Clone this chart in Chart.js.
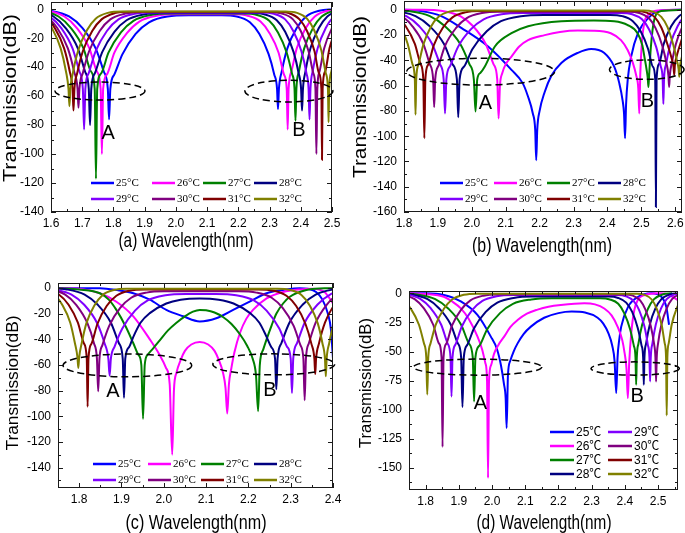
<!DOCTYPE html>
<html>
<head>
<meta charset="utf-8">
<script src="https://cdn.jsdelivr.net/npm/chart.js@4.4.1/dist/chart.umd.min.js"></script>
<style>
  html, body { margin: 0; padding: 0; background: #fff; }
  #wrap { position: relative; width: 685px; height: 533px; overflow: hidden; }
  canvas { position: absolute; }
</style>
</head>
<body>
<div id="wrap">
  <canvas id="pa" width="345" height="262" style="left:0;top:0"></canvas>
  <canvas id="pb" width="340" height="262" style="left:345px;top:0"></canvas>
  <canvas id="pc" width="345" height="271" style="left:0;top:262px"></canvas>
  <canvas id="pd" width="340" height="271" style="left:345px;top:262px"></canvas>
</div>
<script>
// ---- legend text and colours ----
const temps = ["25°C", "26°C", "27°C", "28°C", "29°C", "30°C", "31°C", "32°C"];
const tempsCel = ["25℃", "26℃", "27℃", "28℃", "29℃", "30℃", "31℃", "32℃"];
const colors = ["#0000ff", "#ff00ff", "#008000", "#000080", "#8000ff", "#800080", "#800000", "#808000"];

// ---- tick labels ----
const aXTicks = [1.6, 1.7, 1.8, 1.9, 2.0, 2.1, 2.2, 2.3, 2.4, 2.5];
const aYTicks = [0, -20, -40, -60, -80, -100, -120, -140];
const bXTicks = [1.8, 1.9, 2.0, 2.1, 2.2, 2.3, 2.4, 2.5, 2.6];
const bYTicks = [0, -20, -40, -60, -80, -100, -120, -140, -160];
const cXTicks = [1.8, 1.9, 2.0, 2.1, 2.2, 2.3, 2.4];
const cYTicks = [0, -20, -40, -60, -80, -100, -120, -140];
const dXTicks = [1.8, 1.9, 2.0, 2.1, 2.2, 2.3, 2.4, 2.5];
const dYTicks = [0, -25, -50, -75, -100, -125, -150];

// ---- (a) wavelength / transmission points ----
const a25 = [[1.531,0],[1.599,-1],[1.658,-5],[1.701,-13],[1.743,-27],[1.769,-43],[1.782,-55],[1.786,-76],[1.790,-55],[1.803,-45],[1.829,-31],[1.871,-17],[1.914,-9],[1.973,-5],[2.041,-4.2],[2.147,-4.2],[2.195,-5],[2.237,-9],[2.267,-17],[2.297,-31],[2.315,-45],[2.324,-55],[2.327,-69],[2.330,-55],[2.339,-43],[2.357,-27],[2.387,-13],[2.417,-5],[2.459,-1],[2.507,0]];
const a26 = [[1.523,0],[1.587,-1],[1.643,-5],[1.683,-13],[1.723,-27],[1.747,-43],[1.759,-55],[1.763,-100],[1.767,-55],[1.779,-45],[1.803,-30],[1.843,-16.5],[1.883,-8.5],[1.939,-4.5],[2.003,-3.5],[2.184,-3.5],[2.230,-4.5],[2.271,-8.5],[2.300,-16.5],[2.329,-30],[2.346,-45],[2.355,-55],[2.358,-83],[2.361,-55],[2.370,-43],[2.387,-27],[2.416,-13],[2.445,-5],[2.486,-1],[2.532,0]];
const a27 = [[1.504,0],[1.568,-1],[1.624,-5],[1.664,-13],[1.704,-27],[1.728,-43],[1.740,-55],[1.744,-117],[1.748,-55],[1.760,-44.5],[1.784,-30],[1.824,-16],[1.864,-8],[1.920,-4],[1.984,-3],[2.215,-3],[2.260,-4],[2.299,-8],[2.327,-16],[2.355,-30],[2.372,-44.5],[2.380,-55],[2.383,-77],[2.386,-55],[2.394,-43],[2.411,-27],[2.439,-13],[2.467,-5],[2.506,-1],[2.551,0]];
const a28 = [[1.491,0],[1.553,-1],[1.608,-5],[1.647,-13],[1.686,-27],[1.709,-43],[1.721,-55],[1.725,-80],[1.729,-55],[1.741,-44],[1.764,-29.6],[1.803,-15.6],[1.842,-7.6],[1.897,-3.6],[1.959,-2.6],[2.242,-2.6],[2.285,-3.6],[2.323,-7.6],[2.350,-15.6],[2.377,-29.6],[2.393,-44],[2.401,-55],[2.404,-70],[2.407,-55],[2.415,-43],[2.431,-27],[2.458,-13],[2.485,-5],[2.523,-1],[2.566,0]];
const a29 = [[1.487,0],[1.545,-1],[1.596,-5],[1.633,-13],[1.669,-27],[1.691,-43],[1.702,-55],[1.706,-83],[1.710,-55],[1.721,-44],[1.743,-29],[1.779,-15],[1.816,-7],[1.867,-3.2],[1.925,-2.2],[2.272,-2.2],[2.314,-3.2],[2.350,-7],[2.376,-15],[2.402,-29],[2.418,-44],[2.425,-55],[2.428,-76],[2.431,-55],[2.438,-43],[2.454,-27],[2.480,-13],[2.506,-5],[2.542,-1],[2.584,0]];
const a30 = [[1.484,0],[1.538,-1],[1.586,-5],[1.620,-13],[1.654,-27],[1.674,-43],[1.685,-55],[1.688,-68],[1.691,-55],[1.702,-44],[1.722,-29],[1.756,-15],[1.790,-7],[1.838,-3],[1.892,-1.9],[2.300,-1.9],[2.340,-3],[2.375,-7],[2.400,-15],[2.425,-29],[2.440,-44],[2.447,-55],[2.450,-100],[2.453,-55],[2.460,-43],[2.475,-27],[2.500,-13],[2.525,-5],[2.560,-1],[2.600,0]];
const a31 = [[1.492,0],[1.540,-1],[1.582,-5],[1.612,-13],[1.642,-27],[1.660,-43],[1.669,-55],[1.672,-70],[1.675,-55],[1.684,-44],[1.702,-29],[1.732,-15],[1.762,-7],[1.804,-2.7],[1.852,-1.7],[2.324,-1.7],[2.362,-2.7],[2.396,-7],[2.420,-15],[2.444,-29],[2.458,-44],[2.466,-55],[2.468,-104],[2.470,-55],[2.478,-43],[2.492,-27],[2.516,-13],[2.540,-5],[2.574,-1],[2.612,0]];
const a32 = [[1.491,0],[1.536,-1],[1.575,-5],[1.603,-13],[1.631,-27],[1.648,-43],[1.656,-55],[1.659,-67],[1.662,-55],[1.670,-44],[1.687,-28.5],[1.715,-14.5],[1.743,-6.5],[1.782,-2.5],[1.827,-1.5],[2.351,-1.5],[2.388,-2.5],[2.420,-6.5],[2.443,-14.5],[2.466,-28.5],[2.480,-44],[2.487,-55],[2.489,-78],[2.491,-55],[2.498,-43],[2.512,-27],[2.535,-13],[2.558,-5],[2.590,-1],[2.627,0]];

// ---- (b) ----
const b25 = [[1.75,0],[1.8,0],[1.85,-1],[1.91,-5],[1.97,-14.5],[2.048,-29],[2.117,-47.5],[2.15,-58],[2.165,-68],[2.18,-82],[2.187,-95],[2.19,-119],[2.193,-95],[2.20,-80],[2.215,-65],[2.235,-52],[2.264,-42],[2.313,-34],[2.352,-31],[2.39,-34],[2.42,-45],[2.435,-58],[2.445,-72],[2.449,-82],[2.452,-101.6],[2.455,-75],[2.46,-55],[2.47,-37],[2.49,-18.5],[2.52,-6.6],[2.558,-0.5],[2.62,0]];
const b26 = [[1.80,0],[1.854,0],[1.914,-1],[1.966,-5],[2.004,-13],[2.041,-27],[2.064,-43],[2.075,-55],[2.079,-86],[2.083,-60],[2.09,-50],[2.10,-43],[2.117,-37],[2.14,-29],[2.166,-24],[2.215,-20],[2.26,-17.5],[2.313,-16.4],[2.36,-16.5],[2.41,-18.5],[2.44,-24],[2.46,-32],[2.475,-42],[2.485,-52],[2.491,-62],[2.494,-82],[2.497,-50],[2.502,-25],[2.509,-10],[2.52,-4],[2.548,-0.5],[2.62,0]];
const b27 = [[1.741,0],[1.813,-1],[1.876,-5],[1.921,-13],[1.966,-27],[1.993,-43],[2.006,-55],[2.011,-80.5],[2.016,-55],[2.025,-50],[2.038,-45],[2.068,-29],[2.117,-18.5],[2.166,-13],[2.264,-9],[2.36,-8.4],[2.42,-9],[2.46,-12],[2.489,-18.5],[2.503,-28],[2.509,-37],[2.516,-48],[2.519,-54],[2.521,-61],[2.523,-52],[2.528,-30],[2.538,-8],[2.558,-1],[2.62,0]];
const b28 = [[1.708,0],[1.775,-1],[1.834,-5],[1.876,-13],[1.918,-27],[1.943,-43],[1.956,-55],[1.960,-85],[1.964,-55],[1.977,-45],[2.002,-31],[2.044,-17],[2.086,-9],[2.145,-5],[2.212,-4],[2.408,-4],[2.444,-5],[2.475,-9],[2.498,-17],[2.520,-31],[2.534,-45],[2.541,-55],[2.543,-156],[2.545,-55],[2.552,-43],[2.566,-27],[2.588,-13],[2.611,-5],[2.642,-1],[2.678,0]];
const b29 = [[1.693,0],[1.754,-1],[1.807,-5],[1.845,-13],[1.883,-27],[1.906,-43],[1.917,-55],[1.921,-82],[1.925,-55],[1.936,-44.5],[1.959,-29.5],[1.997,-15.5],[2.035,-7.5],[2.088,-3.5],[2.149,-2.5],[2.439,-2.5],[2.473,-3.5],[2.502,-7.5],[2.523,-15.5],[2.544,-29.5],[2.557,-44.5],[2.563,-55],[2.565,-74.5],[2.567,-55],[2.573,-43],[2.586,-27],[2.607,-13],[2.628,-5],[2.657,-1],[2.691,0]];
const b30 = [[1.697,0],[1.748,-1],[1.793,-5],[1.825,-13],[1.857,-27],[1.876,-43],[1.886,-55],[1.889,-77],[1.892,-55],[1.902,-44],[1.921,-28.5],[1.953,-14.5],[1.985,-6.5],[2.030,-2.5],[2.081,-1.5],[2.462,-1.5],[2.494,-2.5],[2.522,-6.5],[2.542,-14.5],[2.562,-28.5],[2.574,-42],[2.580,-52],[2.582,-61],[2.584,-52],[2.590,-42],[2.602,-27],[2.622,-13],[2.642,-5],[2.670,-1],[2.700,0]];
const b31 = [[1.695,0],[1.739,-1],[1.777,-5],[1.805,-13],[1.832,-27],[1.849,-43],[1.857,-55],[1.860,-101.6],[1.863,-55],[1.871,-43.5],[1.888,-28],[1.915,-14],[1.943,-6],[1.981,-2],[2.025,-1],[2.483,-1],[2.513,-2],[2.540,-6],[2.559,-14],[2.578,-28],[2.589,-38],[2.595,-45],[2.597,-51.5],[2.599,-44],[2.605,-36],[2.616,-26],[2.635,-13],[2.654,-5],[2.700,0]];
const b32 = [[1.699,0],[1.735,-1],[1.766,-5],[1.789,-13],[1.811,-27],[1.825,-43],[1.832,-55],[1.834,-83],[1.836,-55],[1.843,-43],[1.857,-27.5],[1.879,-13.5],[1.902,-5.5],[1.933,-1.5],[1.969,-0.5],[2.507,-0.5],[2.535,-1.5],[2.559,-5.5],[2.577,-13.5],[2.594,-27.5],[2.605,-40],[2.610,-47],[2.612,-53],[2.614,-45],[2.619,-38],[2.630,-27],[2.647,-13],[2.700,0]];

// ---- (c) ----
const c25 = [[1.75,0],[1.849,0],[1.89,-1.5],[1.928,-4],[1.967,-9],[2.006,-17],[2.046,-22],[2.085,-26],[2.124,-23.5],[2.164,-17],[2.203,-10.6],[2.243,-4],[2.282,-1.5],[2.321,0],[2.34,-0.5],[2.36,-3],[2.375,-9],[2.388,-20],[2.395,-32],[2.4,-55],[2.405,-80]];
const c26 = [[1.75,0],[1.8,-0.5],[1.849,-4],[1.888,-10.6],[1.928,-22],[1.967,-40],[1.99,-52],[2.005,-62],[2.014,-75],[2.02,-130],[2.024,-80],[2.03,-66],[2.04,-56],[2.05,-49],[2.065,-44],[2.085,-42],[2.105,-44],[2.12,-49],[2.13,-56],[2.14,-66],[2.146,-78],[2.15,-97.8],[2.154,-75],[2.16,-62],[2.167,-50],[2.18,-35],[2.195,-24],[2.211,-17],[2.243,-8],[2.282,-3],[2.321,-1],[2.35,-0.5],[2.38,-3],[2.4,-12]];
const c27 = [[1.75,0],[1.8,-1],[1.849,-4],[1.87,-9],[1.888,-17],[1.91,-30],[1.928,-43],[1.94,-52],[1.947,-60],[1.951,-102],[1.955,-60],[1.962,-52],[1.975,-47],[1.99,-41],[2.01,-33],[2.03,-27],[2.05,-22],[2.069,-18.4],[2.085,-17],[2.10,-17.3],[2.12,-19],[2.14,-22.5],[2.16,-28],[2.18,-36],[2.197,-45],[2.21,-55],[2.218,-68],[2.223,-96],[2.227,-60],[2.235,-48],[2.243,-40],[2.255,-29],[2.266,-20],[2.282,-12],[2.298,-6.7],[2.337,-1.5],[2.38,0],[2.4,0]];
const c28 = [[1.720,0],[1.770,-1],[1.813,-5],[1.844,-13],[1.875,-27],[1.894,-43],[1.903,-55],[1.906,-85.6],[1.909,-55],[1.918,-46],[1.928,-38],[1.945,-27],[1.967,-19.5],[2.006,-12],[2.04,-9],[2.085,-8],[2.13,-9],[2.165,-12],[2.204,-19.5],[2.226,-27],[2.243,-38],[2.254,-46],[2.263,-55],[2.266,-79],[2.269,-55],[2.278,-43],[2.297,-27],[2.328,-13],[2.359,-5],[2.402,-1],[2.452,0]];
const c29 = [[1.692,0],[1.740,-1],[1.782,-5],[1.812,-13],[1.842,-27],[1.860,-43],[1.869,-55],[1.872,-68.3],[1.875,-55],[1.884,-45.5],[1.902,-31.5],[1.932,-17.5],[1.962,-9.5],[2.004,-5.5],[2.052,-4.5],[2.123,-4.5],[2.171,-5.5],[2.213,-9.5],[2.243,-17.5],[2.273,-31.5],[2.291,-45.5],[2.300,-55],[2.303,-81.8],[2.306,-55],[2.315,-43],[2.333,-27],[2.363,-13],[2.393,-5],[2.435,-1],[2.483,0]];
const c30 = [[1.689,0],[1.731,-1],[1.767,-5],[1.793,-13],[1.819,-27],[1.835,-43],[1.842,-55],[1.845,-80.5],[1.848,-55],[1.855,-44.5],[1.871,-29.5],[1.897,-15.5],[1.923,-7.5],[1.959,-3.5],[2.001,-2.5],[2.177,-2.5],[2.219,-3.5],[2.255,-7.5],[2.281,-15.5],[2.307,-29.5],[2.323,-44.5],[2.330,-55],[2.333,-87.5],[2.336,-55],[2.343,-43],[2.359,-27],[2.385,-13],[2.411,-5],[2.447,-1],[2.489,0]];
const c31 = [[1.685,0],[1.721,-1],[1.752,-5],[1.775,-13],[1.797,-27],[1.811,-43],[1.818,-55],[1.820,-92.6],[1.822,-55],[1.829,-43.5],[1.843,-28],[1.865,-14],[1.888,-6],[1.919,-2],[1.955,-1],[2.223,-1],[2.259,-2],[2.290,-6],[2.313,-14],[2.335,-28],[2.349,-43.5],[2.356,-55],[2.358,-67],[2.360,-55],[2.367,-43],[2.381,-27],[2.403,-13],[2.426,-5],[2.457,-1],[2.493,0]];
const c32 = [[1.684,0],[1.714,-1],[1.741,-5],[1.760,-13],[1.779,-27],[1.790,-43],[1.796,-54],[1.798,-62.4],[1.800,-54],[1.806,-43],[1.817,-27.5],[1.836,-13.5],[1.855,-5.5],[1.882,-1.5],[1.912,-0.5],[2.269,-0.5],[2.299,-1.5],[2.326,-5.5],[2.345,-13.5],[2.364,-27.5],[2.375,-43],[2.381,-55],[2.383,-68.8],[2.385,-55],[2.391,-43],[2.402,-27],[2.421,-13],[2.440,-5],[2.467,-1],[2.500,0]];

// ---- (d) ----
const d25 = [[1.75,0],[1.80,0],[1.855,-1.4],[1.906,-7],[1.956,-18.6],[1.996,-37],[2.015,-48],[2.027,-62],[2.036,-78],[2.041,-90],[2.044,-115.7],[2.048,-70],[2.055,-58],[2.065,-50],[2.077,-43],[2.095,-35],[2.117,-28.6],[2.157,-21],[2.2,-17],[2.24,-15.7],[2.28,-16.5],[2.318,-21],[2.335,-26],[2.35,-34],[2.362,-45],[2.369,-58],[2.374,-85.7],[2.378,-55],[2.383,-40],[2.389,-28.6],[2.41,-11.4],[2.44,-3],[2.48,0],[2.51,-3],[2.525,-12],[2.533,-27]];
const d26 = [[1.75,0],[1.80,-0.5],[1.855,-2.9],[1.88,-7],[1.906,-12.9],[1.93,-22],[1.956,-37],[1.97,-48],[1.98,-60],[1.985,-75],[1.988,-158.6],[1.991,-75],[1.997,-62],[2.006,-52],[2.02,-44],[2.037,-37],[2.055,-29],[2.077,-23],[2.105,-17.5],[2.137,-14],[2.17,-11.5],[2.207,-10],[2.278,-8.6],[2.31,-9.5],[2.338,-13],[2.36,-19],[2.378,-28.6],[2.392,-40],[2.399,-51],[2.405,-65],[2.409,-90],[2.413,-60],[2.419,-35],[2.428,-15],[2.439,-5.7],[2.46,-1.4],[2.5,0],[2.53,-1],[2.56,-6]];
const d27 = [[1.712,0],[1.774,-1],[1.829,-5],[1.868,-13],[1.907,-27],[1.930,-43],[1.942,-55],[1.946,-92.9],[1.950,-55],[1.962,-45],[1.985,-31],[2.024,-17],[2.063,-9],[2.118,-5.3],[2.180,-4.3],[2.326,-4.3],[2.355,-5.3],[2.380,-9],[2.398,-17],[2.416,-31],[2.427,-45],[2.432,-55],[2.434,-78.6],[2.436,-55],[2.441,-43],[2.452,-27],[2.470,-13],[2.488,-5],[2.513,-1],[2.542,0]];
const d28 = [[1.701,0],[1.757,-1],[1.806,-5],[1.841,-13],[1.876,-27],[1.897,-43],[1.907,-55],[1.911,-97.7],[1.915,-55],[1.925,-44.5],[1.946,-30],[1.981,-16],[2.016,-8],[2.065,-4],[2.121,-2.8],[2.352,-2.8],[2.380,-4],[2.404,-8],[2.422,-16],[2.439,-30],[2.450,-44.5],[2.455,-55],[2.457,-78.6],[2.459,-55],[2.464,-43],[2.475,-27],[2.492,-13],[2.510,-5],[2.534,-1],[2.562,0]];
const d29 = [[1.692,0],[1.742,-1],[1.785,-5],[1.816,-13],[1.847,-27],[1.866,-43],[1.875,-55],[1.878,-88.6],[1.881,-55],[1.890,-44],[1.909,-28.5],[1.940,-14.5],[1.971,-6.5],[2.014,-2.5],[2.064,-1.5],[2.377,-1.5],[2.403,-2.5],[2.426,-6.5],[2.443,-14.5],[2.459,-28.5],[2.469,-44],[2.474,-55],[2.476,-75.7],[2.478,-55],[2.483,-43],[2.493,-27],[2.509,-13],[2.526,-5],[2.549,-1],[2.575,0]];
const d30 = [[1.683,0],[1.728,-1],[1.767,-5],[1.795,-13],[1.823,-27],[1.840,-43],[1.848,-55],[1.851,-132],[1.854,-55],[1.862,-43.5],[1.879,-28],[1.907,-14],[1.935,-6],[1.974,-2],[2.019,-1],[2.398,-1],[2.424,-2],[2.446,-6],[2.462,-14],[2.478,-28],[2.488,-43.5],[2.492,-55],[2.494,-75.7],[2.496,-55],[2.500,-43],[2.510,-27],[2.526,-13],[2.542,-5],[2.564,-1],[2.590,0]];
const d31 = [];
const d32 = [[1.655,0],[1.695,-1],[1.730,-5],[1.755,-13],[1.780,-27],[1.795,-43],[1.802,-55],[1.805,-87],[1.808,-55],[1.815,-43],[1.830,-27.3],[1.855,-13.3],[1.880,-5.3],[1.915,-1.3],[1.955,-0.3],[2.436,-0.3],[2.460,-1.3],[2.481,-5.3],[2.496,-13.3],[2.511,-27.3],[2.520,-43],[2.524,-55],[2.526,-105],[2.528,-55],[2.532,-43],[2.541,-27],[2.556,-13],[2.571,-5],[2.592,-1],[2.616,0]];

// ---- dashed rings (centre x, centre y, half width, half height) and letters ----
const aRings = [[1.757, -56.5, 0.144, 6.2], [2.362, -56.5, 0.141, 7.5]];
const bRings = [[2.026, -48.9, 0.218, 10.6], [2.516, -47.3, 0.11, 7.7]];
const cRings = [[1.914, -60.3, 0.152, 8.9], [2.26, -59.5, 0.144, 8.2]];
const dRings = [[1.957, -63.4, 0.193, 6.9], [2.431, -64.6, 0.133, 5.7]];
const aLetters = [["A", 1.783, -85.5], ["B", 2.394, -84]];
const bLetters = [["A", 2.04, -74.5], ["B", 2.518, -72.6]];
const cLetters = [["A", 1.88, -80.7], ["B", 2.251, -80]];
const dLetters = [["A", 1.965, -95], ["B", 2.437, -89]];

// ====================================================
// draws frame, inward ticks, rings, letters, legend, titles
// ====================================================
const panelDecor = {
  id: "panelDecor",
  afterDraw(chart, args, o) {
    const { ctx, chartArea: ca } = chart;
    const sx = chart.scales.x, sy = chart.scales.y;
    ctx.save();

    // frame
    ctx.strokeStyle = "#1a1a1a";
    ctx.lineWidth = 1;
    ctx.strokeRect(Math.round(ca.left) + 0.5, Math.round(ca.top) + 0.5,
      Math.round(ca.right - ca.left) - 1, Math.round(ca.bottom - ca.top) - 1);

    // ticks on all four sides, pointing in
    const mids = (vals, lo, hi) => {
      const st = vals[1] - vals[0];
      const out = [];
      [vals[0] - st, ...vals].forEach(v => {
        const m = v + st / 2;
        if (m > Math.min(lo, hi) && m < Math.max(lo, hi)) out.push(m);
      });
      return out;
    };
    const xv = sx.ticks.map(t => t.value);
    const yv = sy.ticks.map(t => t.value);
    ctx.beginPath();
    const xTick = (v, len) => {
      const p = Math.round(sx.getPixelForValue(v)) + 0.5;
      ctx.moveTo(p, ca.bottom); ctx.lineTo(p, ca.bottom - len);
      ctx.moveTo(p, ca.top); ctx.lineTo(p, ca.top + len);
    };
    const yTick = (v, len) => {
      const p = Math.round(sy.getPixelForValue(v)) + 0.5;
      ctx.moveTo(ca.left, p); ctx.lineTo(ca.left + len, p);
      ctx.moveTo(ca.right, p); ctx.lineTo(ca.right - len, p);
    };
    xv.forEach(v => xTick(v, 5));
    mids(xv, sx.min, sx.max).forEach(v => xTick(v, 3));
    yv.forEach(v => yTick(v, 5));
    mids(yv, sy.min, sy.max).forEach(v => yTick(v, 3));
    ctx.stroke();

    // dashed rings
    ctx.setLineDash([7, 4]);
    ctx.lineWidth = 1.5;
    ctx.strokeStyle = "#000";
    o.rings.forEach(([cx, cy, rx, ry]) => {
      const px = sx.getPixelForValue(cx), py = sy.getPixelForValue(cy);
      const prx = Math.abs(sx.getPixelForValue(cx + rx) - px);
      const pry = Math.abs(sy.getPixelForValue(cy + ry) - py);
      ctx.beginPath();
      ctx.ellipse(px, py, prx, pry, 0, 0, Math.PI * 2);
      ctx.stroke();
    });
    ctx.setLineDash([]);

    // letters
    ctx.fillStyle = "#000";
    ctx.font = "20px 'Liberation Sans', Arial, sans-serif";
    ctx.textAlign = "center";
    ctx.textBaseline = "middle";
    o.letters.forEach(([t, x, y]) => ctx.fillText(t, sx.getPixelForValue(x), sy.getPixelForValue(y)));

    // legend
    const lg = o.legend;
    ctx.font = lg.font;
    ctx.textAlign = "left";
    chart.data.datasets.forEach((ds, i) => {
      const r = lg.byColumn ? i % lg.rows.length : Math.floor(i / lg.cols.length);
      const c = lg.byColumn ? Math.floor(i / lg.rows.length) : i % lg.cols.length;
      const x = lg.cols[c] - o.ox, y = lg.rows[r] - o.oy;
      ctx.strokeStyle = ds.borderColor;
      ctx.lineWidth = 2.5;
      ctx.beginPath();
      ctx.moveTo(x, y); ctx.lineTo(x + lg.len, y);
      ctx.stroke();
      ctx.fillText(ds.label, x + lg.len + 2, y + 0.5);
    });

    // y title, stretched to the measured length
    const yt = o.yTitle;
    ctx.font = yt.size + "px 'Liberation Sans', Arial, sans-serif";
    ctx.textAlign = "center";
    ctx.textBaseline = "middle";
    const yw = ctx.measureText("Transmission(dB)").width;
    ctx.save();
    ctx.translate(yt.x - o.ox, yt.y - o.oy);
    ctx.scale(1, yt.len / yw);
    ctx.rotate(-Math.PI / 2);
    ctx.fillText("Transmission(dB)", 0, 0);
    ctx.restore();

    // caption under the x axis
    const cp = o.caption;
    ctx.font = cp.size + "px 'Liberation Sans', Arial, sans-serif";
    const cw = ctx.measureText(cp.text).width;
    ctx.save();
    ctx.translate(cp.x - o.ox, cp.y - o.oy);
    ctx.scale(cp.w / cw, cp.sy);
    ctx.fillText(cp.text, 0, 0);
    ctx.restore();

    ctx.restore();
  }
};

// ====================================================
// one panel
// ====================================================
function makePanel(id, series, p) {
  const datasets = series.map((d, i) => ({
    label: p.labels[i],
    data: d,
    borderColor: colors[i],
    borderWidth: 2,
    pointRadius: 0,
    fill: false,
    cubicInterpolationMode: "monotone",
    clip: 0,
    order: series.length - 1 - i,
  }));
  const tickFont = { family: "'Liberation Sans', Arial, sans-serif", size: 12 };
  return new Chart(document.getElementById(id), {
    type: "line",
    data: { datasets },
    options: {
      responsive: false,
      animation: false,
      devicePixelRatio: 1,
      layout: { padding: { left: 0, right: p.padRight, top: p.padTop, bottom: 0 } },
      plugins: {
        legend: { display: false },
        tooltip: { enabled: false },
        panelDecor: {
          ox: p.ox, oy: p.oy,
          rings: p.rings, letters: p.letters,
          legend: p.legend, yTitle: p.yTitle, caption: p.caption,
        },
      },
      scales: {
        x: {
          type: "linear",
          min: p.xMin, max: p.xMax,
          afterBuildTicks: s => { s.ticks = p.xTicks.map(v => ({ value: v })); },
          afterFit: s => { s.height = p.xH; s.paddingLeft = 0; s.paddingRight = 0; },
          grid: { display: false, drawTicks: false },
          border: { display: false },
          ticks: { autoSkip: false, maxRotation: 0, padding: 4, color: "#000", font: tickFont,
            callback: v => v.toFixed(1) },
        },
        y: {
          type: "linear",
          min: p.yMin, max: p.yMax,
          afterBuildTicks: s => { s.ticks = p.yTicks.map(v => ({ value: v })); },
          afterFit: s => { s.width = p.yW; s.paddingTop = 0; s.paddingBottom = 0; },
          grid: { display: false, drawTicks: false },
          border: { display: false },
          ticks: { autoSkip: false, padding: 7, color: "#000", font: tickFont,
            callback: v => String(v) },
        },
      },
    },
    plugins: [panelDecor],
  });
}

const serifLegend = "11px 'Liberation Serif', 'Times New Roman', serif";

makePanel("pa", [a25, a26, a27, a28, a29, a30, a31, a32], {
  labels: temps, ox: 0, oy: 0, padRight: 13, padTop: 2, yW: 51, xH: 50,
  xMin: 1.6, xMax: 2.5, yMin: -140, yMax: 5, xTicks: aXTicks, yTicks: aYTicks,
  rings: aRings, letters: aLetters,
  legend: { rows: [183, 199], cols: [91, 152, 203, 254], len: 23, font: serifLegend, byColumn: false },
  yTitle: { x: 11, y: 98, len: 168, size: 18 },
  caption: { text: "(a) Wavelength(nm)", x: 186, y: 241, w: 135, size: 16, sy: 1.3 },
});

makePanel("pb", [b25, b26, b27, b28, b29, b30, b31, b32], {
  labels: temps, ox: 345, oy: 0, padRight: 3, padTop: 1, yW: 59, xH: 50,
  xMin: 1.8, xMax: 2.62, yMin: -160, yMax: 7, xTicks: bXTicks, yTicks: bYTicks,
  rings: bRings, letters: bLetters,
  legend: { rows: [183, 199], cols: [440, 494, 547, 598], len: 23, font: serifLegend, byColumn: false },
  yTitle: { x: 361, y: 97, len: 162, size: 18 },
  caption: { text: "(b) Wavelength(nm)", x: 542, y: 246, w: 140, size: 16, sy: 1.3 },
});

makePanel("pc", [c25, c26, c27, c28, c29, c30, c31, c32], {
  labels: temps, ox: 0, oy: 262, padRight: 12, padTop: 21, yW: 58, xH: 45,
  xMin: 1.75, xMax: 2.4, yMin: -156, yMax: 4, xTicks: cXTicks, yTicks: cYTicks,
  rings: cRings, letters: cLetters,
  legend: { rows: [464, 480], cols: [93, 148, 201, 254], len: 23, font: serifLegend, byColumn: false },
  yTitle: { x: 13, y: 383, len: 135, size: 17 },
  caption: { text: "(c) Wavelength(nm)", x: 196, y: 523, w: 141, size: 16, sy: 1.3 },
});

makePanel("pd", [d25, d26, d27, d28, d29, d30, d31, d32], {
  labels: tempsCel, ox: 345, oy: 262, padRight: 7, padTop: 29, yW: 64, xH: 43,
  xMin: 1.75, xMax: 2.56, yMin: -169, yMax: 2, xTicks: dXTicks, yTicks: dYTicks,
  rings: dRings, letters: dLetters,
  legend: { rows: [432, 446, 460, 474], cols: [550, 608], len: 24, byColumn: true,
    font: "12px 'Liberation Sans', Arial, 'Noto Sans CJK SC', sans-serif" },
  yTitle: { x: 366, y: 383, len: 130, size: 17 },
  caption: { text: "(d) Wavelength(nm)", x: 544, y: 523, w: 135, size: 16, sy: 1.3 },
});
</script>
</body>
</html>
